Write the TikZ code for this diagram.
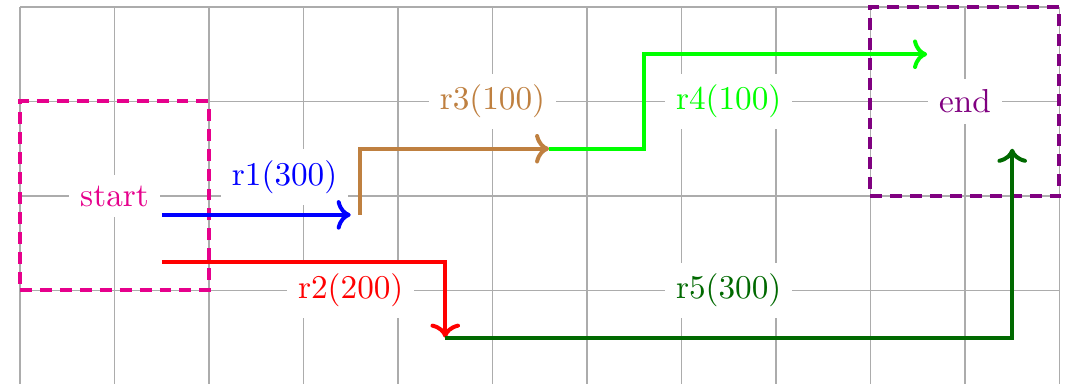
\documentclass[tikz,border=0pt]{standalone}
\usetikzlibrary{arrows.meta, positioning}
\definecolor{startpink}{RGB}{230,0,140}
\definecolor{endpurple}{RGB}{128,0,128}
\definecolor{routebrown}{RGB}{191,128,64}
\definecolor{routelime}{RGB}{0,255,0}
\definecolor{routedark}{RGB}{0,105,0}
\tikzset{
  gridline/.style={gray!65, thin},
  area/.style={
    rectangle,
    draw,
    dash pattern=on 3.6pt off 2.4pt,
    very thick,
    minimum size=2cm,
    inner sep=0pt
  },
  tag/.style={fill=white},
  route/.style={->, very thick}
}

\begin{document}
\begin{tikzpicture}[x=1cm,y=1cm]
\useasboundingbox (-0.212,0.02) rectangle (11.07,4.074);
\draw[gridline] (0,-0.1) grid (11,4);

\node[area, draw=startpink] (startbox) at (1,2) {};
\node[area, draw=endpurple] (endbox) at (10,3) {};
\node[tag, text=startpink] (start) at (startbox.center) {start};
\node[tag, text=endpurple] (end) at (endbox.center) {end};

\node[tag, text=blue] (r1) at (2.8,2.2) {r1(300)};
\node[tag, text=red] (r2) at (3.5,1) {r2(200)};
\node[tag, text=routebrown] (r3) at (5,3) {r3(100)};
\node[tag, text=routelime] (r4) at (7.5,3) {r4(100)};
\node[tag, text=routedark] (r5) at (7.5,1) {r5(300)};

\coordinate (a1) at (1.5,1.8);
\coordinate (a2) at (3.5,1.8);
\coordinate (a3) at (1.5,1.3);
\coordinate (b1) at (3.6,1.8);
\coordinate (b2) at (5.6,2.5);
\coordinate (c1) at (6.6,2.5);
\coordinate (c2) at (9.6,3.5);
\coordinate (d1) at (4.5,0.5);
\coordinate (e1) at (10.5,2.5);

\draw[route, blue] (a1) -- (a2);
\draw[route, red] (a3) -| (d1);
\draw[route, routebrown] (b1) |- (b2);
\draw[route, routelime] (b2) -- (c1) |- (c2);
\draw[route, routedark] (d1) -| (e1);
\end{tikzpicture}
\end{document}
